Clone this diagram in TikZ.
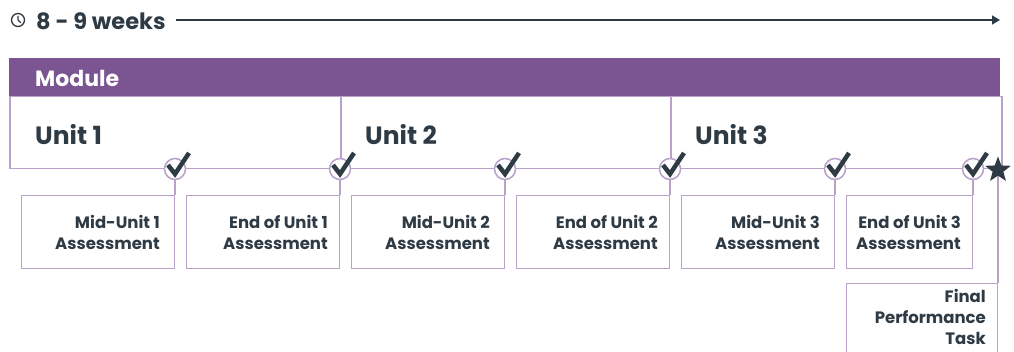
\documentclass[tikz,border=0pt]{standalone}
\usepackage{fontspec}
\setmainfont{Poppins}
\usetikzlibrary{shapes.geometric,arrows.meta}
\definecolor{plum}{HTML}{7B5591}
\definecolor{lilac}{HTML}{B9A2CA}
\definecolor{ink}{HTML}{2E3A44}
\begin{document}
\begin{tikzpicture}[x=1pt,y=-1pt,
  frame/.style={draw=lilac, line width=1.5pt, fill=white, inner sep=0pt},
  unitbox/.style={frame, anchor=north west, minimum width=331pt, minimum height=72pt},
  taskbox/.style={frame, anchor=north east, minimum width=153pt, minimum height=73pt},
  unitlabel/.style={anchor=west, text=ink, font=\fontsize{25}{28}\selectfont\bfseries, inner sep=0pt},
  tasklabel/.style={anchor=east, align=right, text=ink, font=\fontsize{16.5}{21}\selectfont\bfseries, inner sep=0pt},
  checkring/.style={circle, draw=lilac, line width=1.5pt, fill=white, minimum size=21pt, inner sep=0pt},
  tick/.style={draw=ink, line width=4.5pt, line join=miter, line cap=butt},
]
\useasboundingbox (0,0) rectangle (1014,352);
\clip (0,0) rectangle (1014,352);

% duration timeline
\node[circle, draw=ink, line width=1.3pt, minimum size=13pt, inner sep=0pt] (clock) at (18,20) {};
\draw[ink, line width=1.3pt] (clock.center) -- ++(0,-4) (clock.center) -- ++(2.8,2.8);
\node[anchor=west, text=ink, font=\fontsize{22.5}{26}\selectfont\bfseries, inner sep=0pt] (dur) at (36,21) {8 - 9 weeks};
\coordinate (tend) at (1000,20);
\draw[ink, line width=1.5pt, -{Triangle[length=8pt,width=9pt]}] ([xshift=10pt]dur.east |- tend) -- (tend);

% module banner
\node[fill=plum, anchor=north west, minimum width=991pt, minimum height=38pt, inner sep=0pt] (module) at (9,58) {};
\node[anchor=west, text=white, font=\fontsize{22}{26}\selectfont\bfseries, inner sep=0pt] (modlabel) at (35,78) {Module};

% units
\node[unitbox] (u1) at (9,96) {};
\node[unitbox] (u2) at (340,96) {};
\node[unitbox] (u3) at (670,96) {};
\node[unitlabel] (u1l) at (35,135) {Unit 1};
\node[unitlabel] (u2l) at (365,135) {Unit 2};
\node[unitlabel] (u3l) at (695,135) {Unit 3};

% assessments
\node[taskbox] (a1) at (175,195) {};
\node[taskbox] (a2) at (340,195) {};
\node[taskbox] (a3) at (505,195) {};
\node[taskbox] (a4) at (670,195) {};
\node[taskbox] (a5) at (835,195) {};
\node[taskbox, minimum width=126pt] (a6) at (973,195) {};
\node[tasklabel] at ([xshift=-15pt]a1.east) {Mid-Unit 1\\Assessment};
\node[tasklabel] at ([xshift=-12pt]a2.east) {End of Unit 1\\Assessment};
\node[tasklabel] at ([xshift=-15pt]a3.east) {Mid-Unit 2\\Assessment};
\node[tasklabel] at ([xshift=-12pt]a4.east) {End of Unit 2\\Assessment};
\node[tasklabel] at ([xshift=-15pt]a5.east) {Mid-Unit 3\\Assessment};
\node[tasklabel] at ([xshift=-12pt]a6.east) {End of Unit 3\\Assessment};

% final performance task
\node[frame, anchor=north east, minimum width=151pt, minimum height=90pt] (final) at (998,283) {};
\node[tasklabel, anchor=north east] at (986,289) {Final\\Performance\\Task};

% checkpoints
\foreach \n/\x/\t in {c1/175/a1, c2/340/a2, c3/505/a3, c4/670/a4, c5/835/a5, c6/973/a6} {
  \draw[lilac, line width=1.5pt] (\x,169) -- (\t.north east);
  \node[checkring] (\n) at (\x,169) {};
  \draw[tick] ([shift={(-7,-4)}]\n.center) -- ([shift={(0,5)}]\n.center) -- ([shift={(14,-16)}]\n.center);
}

% final star
\draw[lilac, line width=1.5pt] (998,170) -- (final.north east);
\node[star, star points=5, star point ratio=2.4, fill=ink, minimum size=27pt, inner sep=0pt] (star) at (998,170) {};
\end{tikzpicture}
\end{document}
